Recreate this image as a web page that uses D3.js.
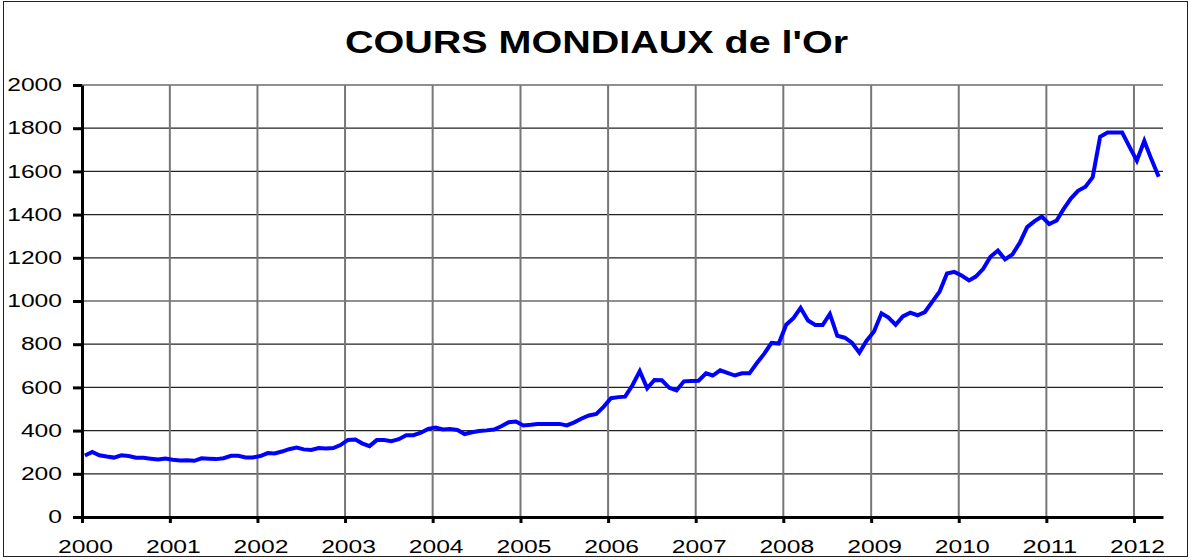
<!DOCTYPE html>
<html>
<head>
<meta charset="utf-8">
<script src="https://d3js.org/d3.v7.min.js"></script>
<style>
  body { margin: 0; background: #fff; }
  text { font-family: "Liberation Sans", Arial, sans-serif; fill: #000; }
</style>
</head>
<body>
<script>
// monthly gold price, USD/oz, Jan 2000 -> Apr 2012
const prices = [
  285, 301, 286, 280, 275, 286, 282, 274, 274, 270, 266, 271,        // 2000
  265, 262, 263, 260, 272, 270, 268, 272, 283, 283, 276, 276,        // 2001
  282, 296, 294, 303, 314, 321, 313, 310, 319, 317, 319, 333,        // 2002
  357, 359, 341, 328, 356, 356, 351, 360, 379, 379, 390, 408,        // 2003
  414, 405, 407, 403, 384, 392, 398, 401, 405, 420, 439, 442,        // 2004
  424, 427, 431, 430, 430, 431, 424, 438, 456, 470, 477, 510,        // 2005
  550, 555, 557, 611, 675, 596, 634, 633, 598, 586, 628, 630,        // 2006
  631, 665, 655, 679, 667, 655, 665, 665, 713, 755, 806, 803,        // 2007
  890, 922, 968, 910, 889, 889, 940, 839, 830, 807, 761, 816,        // 2008
  859, 943, 924, 890, 929, 946, 934, 949, 997, 1043, 1127, 1135,     // 2009
  1118, 1095, 1113, 1149, 1205, 1233, 1193, 1216, 1271, 1342, 1370, 1391, // 2010
  1356, 1373, 1424, 1474, 1510, 1529, 1573, 1760, 1780, 1780, 1780, 1715, // 2011
  1650, 1741, 1658, 1575                                              // 2012
];
const startYear = 2000;
const yearTicks = [2000, 2001, 2002, 2003, 2004, 2005, 2006, 2007, 2008, 2009, 2010, 2011, 2012];
const valueTicks = [0, 200, 400, 600, 800, 1000, 1200, 1400, 1600, 1800, 2000];
const chartTitle = "COURS MONDIAUX de l'Or";

const W = 1191, H = 560;
const plotL = 82, plotR = 1163, plotT = 85, plotB = 517;
const digitW = 13.7; // labels in the picture are stretched sideways

const svg = d3.select("body").append("svg")
  .attr("width", W)
  .attr("height", H);

// outer frame
svg.append("rect")
  .attr("x", 3.5).attr("y", 1.5)
  .attr("width", 1184).attr("height", 555)
  .attr("fill", "#fff")
  .attr("stroke", "#222")
  .attr("stroke-width", 1);

const x = d3.scaleTime()
  .domain([new Date(startYear, 0, 1), new Date(2012, 4, 1)])
  .range([plotL, plotR]);
const y = d3.scaleLinear()
  .domain([0, 2000])
  .range([plotB, plotT]);

// title
svg.append("text")
  .attr("x", 596.5)
  .attr("y", 53)
  .attr("text-anchor", "middle")
  .attr("textLength", 503)
  .attr("lengthAdjust", "spacingAndGlyphs")
  .style("font-size", "32px")
  .style("font-weight", "bold")
  .text(chartTitle);

// grid
svg.append("g").selectAll("line")
  .data(valueTicks.filter(v => v > 0))
  .join("line")
  .attr("x1", plotL).attr("x2", plotR)
  .attr("y1", d => y(d)).attr("y2", d => y(d))
  .attr("stroke", "#222")
  .attr("stroke-width", 1.2);

svg.append("g").selectAll("line")
  .data(yearTicks.slice(1))
  .join("line")
  .attr("x1", d => x(new Date(d, 0, 1))).attr("x2", d => x(new Date(d, 0, 1)))
  .attr("y1", plotT).attr("y2", plotB)
  .attr("stroke", "#777")
  .attr("stroke-width", 2);

// price line
const pts = prices.map((v, i) => ({ date: new Date(startYear, i, 13), v: v }));
const line = d3.line()
  .x(d => x(d.date))
  .y(d => y(d.v));

svg.append("path")
  .datum(pts)
  .attr("d", line)
  .attr("fill", "none")
  .attr("stroke", "#0000ff")
  .attr("stroke-width", 4);

// axes
const yAxis = svg.append("g")
  .attr("transform", "translate(" + plotL + ",0)")
  .call(d3.axisLeft(y)
    .tickValues(valueTicks)
    .tickFormat(d3.format("d"))
    .tickSize(9).tickSizeOuter(0).tickPadding(11));

const xAxis = svg.append("g")
  .attr("transform", "translate(0," + plotB + ")")
  .call(d3.axisBottom(x)
    .tickValues(yearTicks.map(d => new Date(d, 0, 1)))
    .tickFormat(d3.timeFormat("%Y"))
    .tickSize(6).tickSizeOuter(0).tickPadding(17));

[yAxis, xAxis].forEach(ax => {
  ax.select(".domain").attr("stroke", "#000").attr("stroke-width", 3);
  ax.selectAll(".tick line").attr("stroke", "#000").attr("stroke-width", 3);
  ax.selectAll(".tick text")
    .style("font-size", "18px")
    .style("font-family", "'Liberation Sans', Arial, sans-serif")
    .attr("fill", "#000")
    .attr("lengthAdjust", "spacingAndGlyphs")
    .attr("textLength", function () { return this.textContent.length * digitW; });
});
xAxis.selectAll(".tick text").attr("x", 3);
</script>
</body>
</html>
